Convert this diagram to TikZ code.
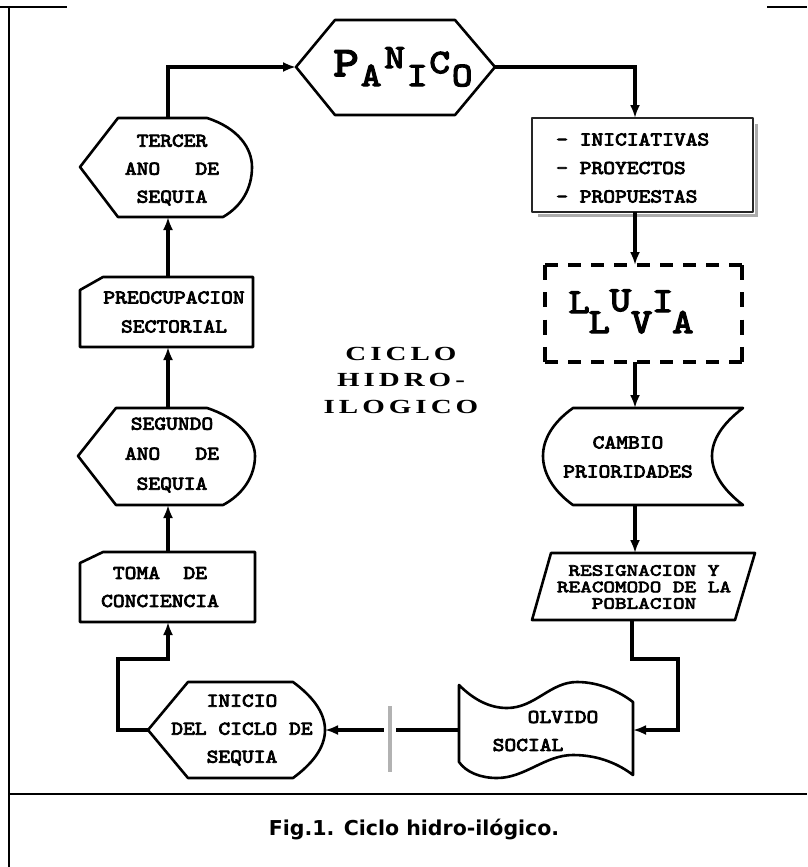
\documentclass[tikz,border=0pt]{standalone}
\usepackage{fontspec}
\usetikzlibrary{arrows.meta}
\newfontfamily\boxfont{lmmono10-regular.otf}[FakeBold=4,FakeStretch=1.15]
\newfontfamily\resfont{lmmono10-regular.otf}[FakeBold=4,FakeStretch=1.3]
\newfontfamily\ctrfont{Liberation Serif}[FakeStretch=1.45,LetterSpace=20]
\newfontfamily\capfont{DejaVu Sans}
\begin{document}
\begin{tikzpicture}[x=1pt,y=-1pt,
  shp/.style={draw=black,line width=2.6pt,line join=round},
  conn/.style={draw=black,line width=4.6pt},
  arr/.style={conn,-{Latex[length=13pt,width=10pt]}},
  lbl/.style={font=\boxfont\fontsize{19.5}{28}\selectfont,align=center,inner sep=0pt},
  frame/.style={draw=black,line width=2.6pt}
]
\fill[white] (0,0) rectangle (807,867);
\useasboundingbox (0,0) rectangle (807,867);
% frame
\draw[frame] (0,7) -- (67,7);
\draw[frame] (767,7) -- (807,7);
\draw[frame] (9,7) -- (9,867);
\draw[frame] (9,794) -- (807,794);

% PANICO
\draw[shp] (296,67) -- (335,20) -- (455,20) -- (495,67) -- (455,115) -- (335,115) -- cycle;
\node[font=\boxfont\fontsize{34}{34}\selectfont,inner sep=0pt,anchor=base] (panico) at (403,86)
  {\raisebox{10pt}{\fontsize{42}{42}\selectfont P}\kern2pt A\kern3pt\raisebox{18pt}{N}\kern2pt I\kern2pt\raisebox{13pt}{C}\kern2pt O};
\coordinate (panicoW) at (296,67);
\coordinate (panicoE) at (495,67);

% TERCER ANO DE SEQUIA
\draw[shp] (80,167) -- (118,118) -- (207,118) .. controls (238,128) and (252,148) .. (252,167)
  .. controls (252,188) and (242,206) .. (223,217) -- (118,217) -- cycle;
\node[lbl] (tercer) at (172,170) {TERCER\\ANO\ \ \ DE\\SEQUIA};
\coordinate (tercerT) at (168,118);
\coordinate (tercerB) at (168,217);

% PREOCUPACION SECTORIAL
\draw[shp] (80,290) -- (103,277) -- (253,277) -- (253,347) -- (80,347) -- cycle;
\node[lbl,font=\boxfont\fontsize{19.5}{29}\selectfont] (preoc) at (174,312) {PREOCUPACION\\SECTORIAL};
\coordinate (preocT) at (168,277);
\coordinate (preocB) at (168,347);

% SEGUNDO ANO DE SEQUIA
\draw[shp] (78,456) -- (116,408) -- (207,408) .. controls (238,418) and (255,438) .. (255,456)
  .. controls (255,477) and (242,495) .. (223,505) -- (116,505) -- cycle;
\node[lbl,font=\boxfont\fontsize{19.5}{30}\selectfont] (segundo) at (172,455) {SEGUNDO\\ANO\ \ \ DE\\SEQUIA};
\coordinate (segundoT) at (168,408);
\coordinate (segundoB) at (168,505);

% TOMA DE CONCIENCIA
\draw[shp] (80,563) -- (103,552) -- (255,552) -- (255,622) -- (80,622) -- cycle;
\node[lbl] (toma) at (160,587) {TOMA\ \ DE\\CONCIENCIA};
\coordinate (tomaT) at (168,552);
\coordinate (tomaB) at (168,622);

% INICIO DEL CICLO DE SEQUIA
\draw[shp] (148,730) -- (188,682) -- (293,682) .. controls (312,696) and (325,712) .. (325,730)
  .. controls (325,748) and (312,764) .. (293,778) -- (188,778) -- cycle;
\node[lbl] (inicio) at (242,730) {INICIO\\DEL CICLO DE\\SEQUIA};
\coordinate (inicioW) at (148,730);
\coordinate (inicioE) at (325,730);

% INICIATIVAS box with shadow
\draw[gray!65,line width=3pt] (538,215.5) -- (756.5,215.5) -- (756.5,124);
\draw[shp,draw=black!85,line width=2.2pt] (532,118) rectangle (753,212);
\node[lbl,align=left,anchor=west,font=\boxfont\fontsize{19.5}{28.5}\selectfont] (inic) at (556,168)
  {- INICIATIVAS\\- PROYECTOS\\- PROPUESTAS};
\coordinate (inicT) at (635,118);
\coordinate (inicB) at (635,212);

% LLUVIA dashed box
\begin{scope}[line width=3.4pt]
\draw[dash pattern=on 13pt off 10pt] (545,265) -- (742,265);
\draw[dash pattern=on 13pt off 10pt] (545,362) -- (742,362);
\draw[dash pattern=on 15pt off 12.33pt] (545,265) -- (545,362);
\draw[dash pattern=on 15pt off 12.33pt] (742,265) -- (742,362);
\end{scope}
\node[font=\boxfont\fontsize{35}{35}\selectfont,inner sep=0pt,anchor=base] (lluvia) at (631,333)
  {\raisebox{20pt}{L}\kern-1pt L\raisebox{22pt}{U}V\raisebox{21pt}{I}\kern-1pt A};
\coordinate (lluviaT) at (635,265);
\coordinate (lluviaB) at (635,362);

% CAMBIO PRIORIDADES (stored data)
\draw[shp] (573,408) -- (743,408) .. controls (722,424) and (712,440) .. (712,456)
  .. controls (712,472) and (722,489) .. (743,505) -- (573,505)
  .. controls (552,490) and (543,472) .. (543,456) .. controls (543,440) and (552,423) .. (573,408) -- cycle;
\node[lbl,font=\boxfont\fontsize{19.5}{29}\selectfont] (cambio) at (628,457) {CAMBIO\\PRIORIDADES};
\coordinate (cambioT) at (635,408);
\coordinate (cambioB) at (635,505);

% RESIGNACION parallelogram
\draw[shp] (551,553) -- (755,553) -- (735,620) -- (532,620) -- cycle;
\node[lbl,font=\resfont\fontsize{17}{16.5}\selectfont] (resig) at (644,587) {RESIGNACION Y\\REACOMODO DE LA\\POBLACION};
\coordinate (resigT) at (635,553);
\coordinate (resigB) at (632,620);

% OLVIDO SOCIAL (punched tape)
\draw[shp] (459,685) .. controls (474,700) and (490,708) .. (507,708)
  .. controls (535,708) and (550,682) .. (577,682) .. controls (600,682) and (620,692) .. (633,702)
  -- (633,775) .. controls (620,765) and (600,755) .. (573,755)
  .. controls (545,755) and (525,778) .. (497,778) .. controls (480,778) and (466,772) .. (459,762) -- cycle;
\node[lbl] (olvido) at (563,717) {OLVIDO};
\node[lbl] (social) at (528,745) {SOCIAL};
\coordinate (olvidoW) at (459,730);
\coordinate (olvidoE) at (633,730);

% central title
\node[font=\ctrfont\bfseries\fontsize{20}{26.5}\selectfont,align=center,inner sep=0pt] (ciclo) at (401,380) {CICLO\\HIDRO-\\ILOGICO};

% bend coordinates
\coordinate (k1) at (678,659);
\coordinate (k2) at (118,659);

% connectors
\draw[arr] (tercerT) |- (panicoW);
\draw[arr] (panicoE) -| (inicT);
\draw[arr] (inicB) -- (lluviaT);
\draw[arr] (lluviaB) -- (cambioT);
\draw[arr] (cambioB) -- (resigT);
\draw[arr] (resigB) |- (k1) |- (olvidoE);
\draw[arr] (olvidoW) -- (inicioE);
\draw[arr] (inicioW) -| (k2) -| (tomaB);
\draw[arr] (tomaT) -- (segundoB);
\draw[arr] (segundoT) -- (preocB);
\draw[arr] (preocT) -- (tercerB);

% gray break bar
\coordinate (barT) at (390,706);
\coordinate (barB) at (390,772);
\draw[white,line width=12pt] (390,724) -- (390,736);
\draw[gray!60,line width=3.5pt] (barT) -- (barB);

% caption
\node[font=\capfont\bfseries\fontsize{20.5}{20.5}\selectfont,inner sep=0pt] (caption) at (414,830) {Fig.1. Ciclo hidro-ilógico.};
\end{tikzpicture}
\end{document}
